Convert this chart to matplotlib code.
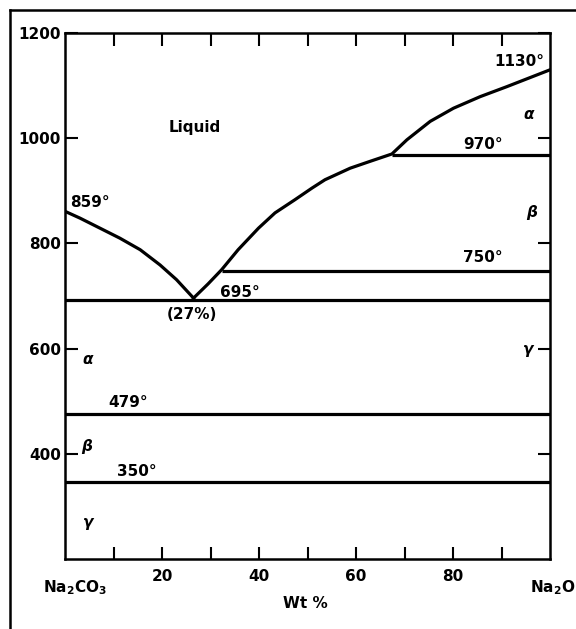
import matplotlib.pyplot as plt
from matplotlib.lines import Line2D

# liquidus curves (wt % Na2O, temperature in C)
left_x = [0, 3.1, 7.2, 11.3, 15.5, 19.6, 23.0, 26.5]
left_T = [861, 848, 829, 810, 788, 759, 731, 696]
right_x = [26.5, 29.5, 32.3, 35.7, 39.9, 43.3, 47.4, 50.9, 53.6, 58.8, 62.9,
           67.4, 70.5, 75.3, 80.1, 85.6, 91.1, 100]
right_T = [696, 723, 750, 788, 829, 858, 883, 905, 921, 943, 956,
           970, 997, 1032, 1057, 1079, 1098, 1130]

# horizontal transition lines: temperature, start x
iso_T = [968, 747, 693, 476, 347]
iso_x0 = [67.4, 32.3, 0, 0, 0]

# labels inside the diagram
labels = ["Liquid", "859°", "1130°", "970°", "750°", "695°", "(27%)",
          "479°", "350°"]
label_x = [26.8, 5.2, 93.6, 86.2, 86.2, 36.1, 26.2, 13, 14.8]
label_T = [1020, 877, 1145, 988, 773, 707, 665, 497, 366]

phases = ["α", "β", "γ", "α", "β", "γ"]
phase_x = [95.5, 96.3, 95.5, 4.7, 4.5, 4.7]
phase_T = [1045, 858, 598, 579, 413, 269]

xticks = [10, 20, 30, 40, 50, 60, 70, 80, 90]
xticklabels = ["", "20", "", "40", "", "60", "", "80", ""]
yticks = [400, 600, 800, 1000, 1200]

fs = 11
plt.rcParams["font.weight"] = "bold"
fig = plt.figure(figsize=(5.76, 6.29), dpi=100)
ax = fig.add_axes([65 / 576, 1 - 559 / 629, 485 / 576, 526 / 629])

ax.plot(left_x, left_T, color="black", lw=2.3, solid_joinstyle="round")
ax.plot(right_x, right_T, color="black", lw=2.3, solid_joinstyle="round")
for T, x0 in zip(iso_T, iso_x0):
    ax.plot([x0, 100], [T, T], color="black", lw=2.3, solid_capstyle="butt")

for s, x, T in zip(labels, label_x, label_T):
    ax.text(x, T, s, ha="center", va="center", fontsize=fs)
for s, x, T in zip(phases, phase_x, phase_T):
    ax.text(x, T, s, ha="center", va="center", fontsize=fs, style="italic")

ax.set_xlim(0, 100)
ax.set_ylim(200, 1200)
ax.set_xticks(xticks)
ax.set_xticklabels(xticklabels)
ax.set_yticks(yticks)
ax.tick_params(direction="in", length=9, width=1.5, top=True, right=True,
               labelsize=fs, colors="black")
ax.tick_params(axis="x", pad=7)
ax.tick_params(axis="y", pad=3)
for sp in ax.spines.values():
    sp.set_linewidth(1.8)

tr = ax.get_xaxis_transform()
ax.text(2, -0.055, "Na$_2$CO$_3$", transform=tr, ha="center", va="center", fontsize=fs)
ax.text(100.5, -0.055, "Na$_2$O", transform=tr, ha="center", va="center", fontsize=fs)
ax.text(49.5, -0.084, "Wt %", transform=tr, ha="center", va="center", fontsize=fs)

# outer frame of the scanned figure (top and left)
fig.add_artist(Line2D([10 / 576, 10 / 576], [0, 1 - 10 / 629], color="black",
                      lw=1.8, transform=fig.transFigure))
fig.add_artist(Line2D([10 / 576, 1], [1 - 10 / 629, 1 - 10 / 629], color="black",
                      lw=1.8, transform=fig.transFigure))

fig.savefig("out.png", dpi=100)
